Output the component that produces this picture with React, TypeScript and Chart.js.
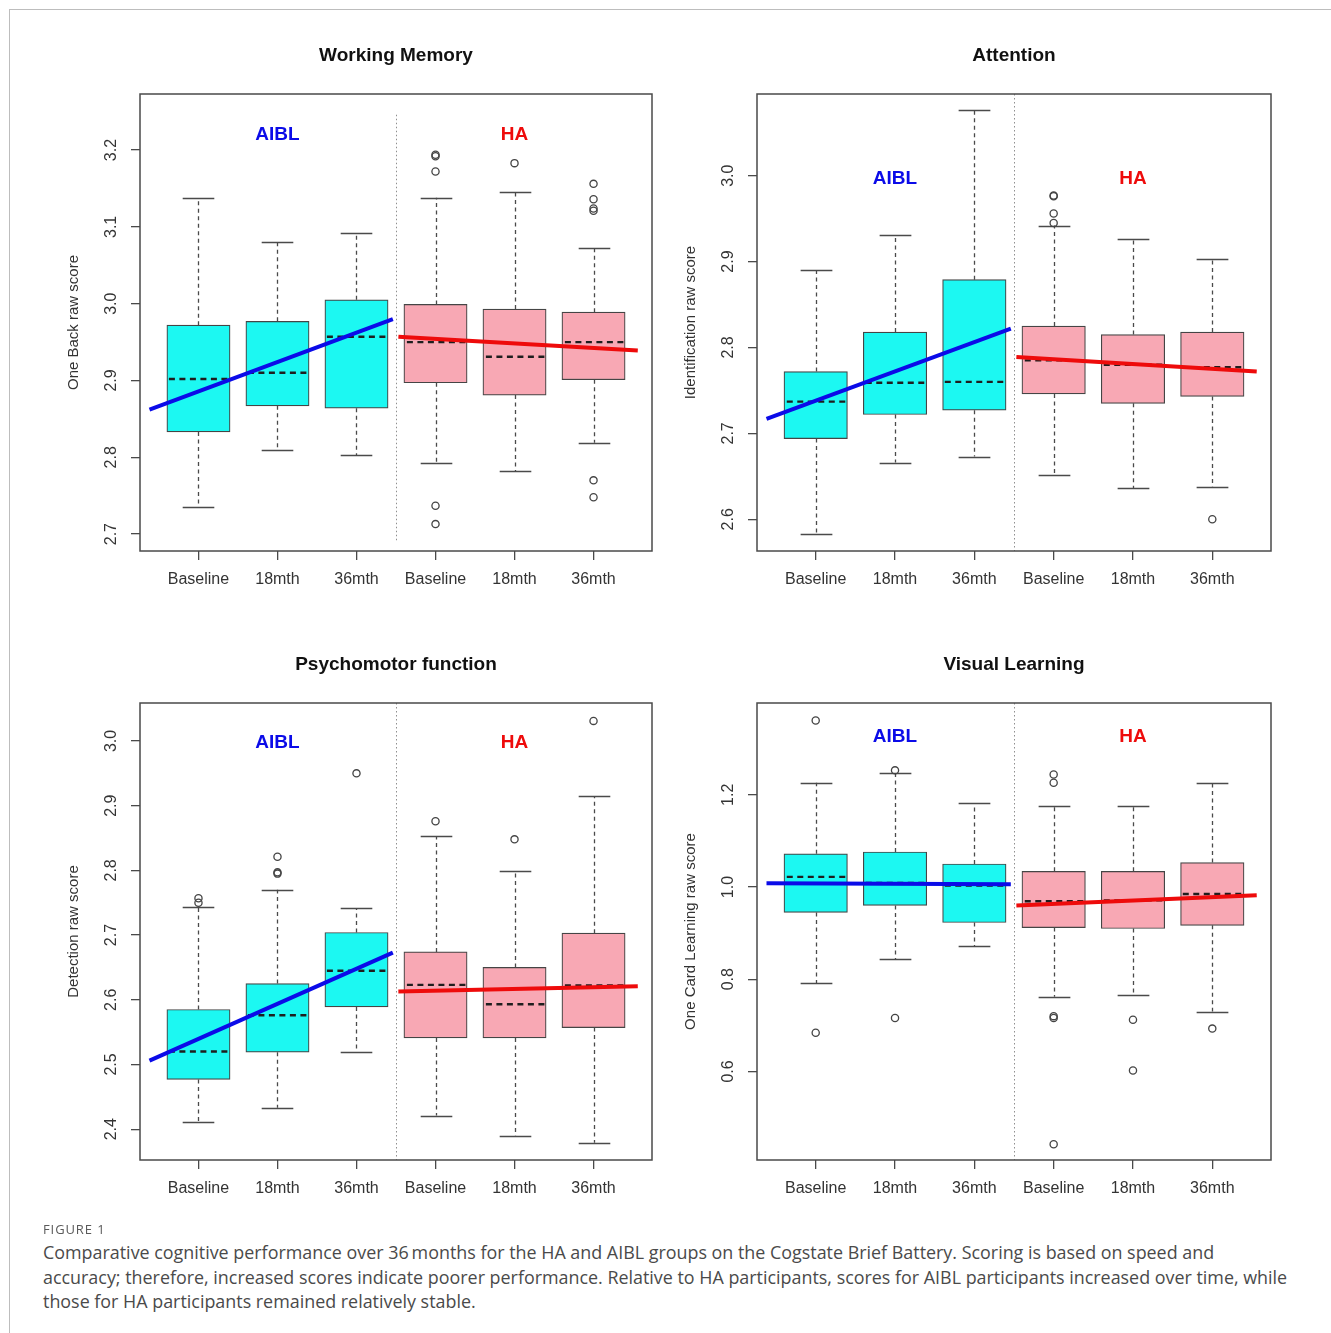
import React, { useEffect, useRef } from "react";
import { Chart, registerables } from "chart.js";

Chart.register(...registerables);

const FONT = "'Liberation Sans', Arial, Helvetica, sans-serif";
const CAPTION_FONT = "'Open Sans', 'Noto Sans', sans-serif";

// ---- shared ----
const categories = ["Baseline", "18mth", "36mth", "Baseline", "18mth", "36mth"];
const groupNames = ["AIBL", "HA"];
const groupCenters = [2, 5];
const aiblTrendX = [0.38, 3.46];
const haTrendX = [3.53, 6.56];

// ---- Working Memory ----
const wmLower = [2.735, 2.81, 2.803, 2.792, 2.782, 2.819];
const wmQ1 = [2.833, 2.867, 2.864, 2.897, 2.881, 2.901];
const wmMedian = [2.902, 2.91, 2.957, 2.95, 2.931, 2.95];
const wmQ3 = [2.972, 2.977, 3.005, 2.999, 2.993, 2.989];
const wmUpper = [3.138, 3.08, 3.092, 3.138, 3.145, 3.072];
const wmOutlierCat = [4, 4, 4, 4, 4, 5, 6, 6, 6, 6, 6, 6];
const wmOutlierVal = [3.194, 3.192, 3.172, 2.737, 2.713, 3.183, 3.156, 3.136, 3.124, 3.121, 2.77, 2.748];
const wmAiblTrend = [2.862, 2.98];
const wmHaTrend = [2.957, 2.939];
const wmTicks = [2.7, 2.8, 2.9, 3.0, 3.1, 3.2];

// ---- Attention ----
const atLower = [2.583, 2.666, 2.673, 2.651, 2.636, 2.638];
const atQ1 = [2.694, 2.722, 2.727, 2.746, 2.735, 2.743];
const atMedian = [2.737, 2.759, 2.76, 2.785, 2.78, 2.777];
const atQ3 = [2.772, 2.818, 2.879, 2.825, 2.815, 2.818];
const atUpper = [2.89, 2.931, 3.077, 2.942, 2.926, 2.903];
const atOutlierCat = [4, 4, 4, 4, 6];
const atOutlierVal = [2.977, 2.976, 2.956, 2.945, 2.6];
const atAiblTrend = [2.717, 2.822];
const atHaTrend = [2.789, 2.772];
const atTicks = [2.6, 2.7, 2.8, 2.9, 3.0];

// ---- Psychomotor function ----
const pmLower = [2.411, 2.433, 2.52, 2.421, 2.39, 2.379];
const pmQ1 = [2.477, 2.519, 2.589, 2.541, 2.541, 2.557];
const pmMedian = [2.52, 2.576, 2.645, 2.623, 2.593, 2.622];
const pmQ3 = [2.585, 2.625, 2.704, 2.674, 2.65, 2.703];
const pmUpper = [2.744, 2.77, 2.742, 2.853, 2.799, 2.915];
const pmOutlierCat = [1, 1, 2, 2, 2, 3, 4, 5, 6];
const pmOutlierVal = [2.757, 2.75, 2.821, 2.797, 2.795, 2.95, 2.876, 2.848, 3.031];
const pmAiblTrend = [2.506, 2.673];
const pmHaTrend = [2.613, 2.621];
const pmTicks = [2.4, 2.5, 2.6, 2.7, 2.8, 2.9, 3.0];

// ---- Visual Learning ----
const vlLower = [0.791, 0.843, 0.872, 0.762, 0.765, 0.73];
const vlQ1 = [0.945, 0.96, 0.923, 0.912, 0.91, 0.917];
const vlMedian = [1.022, 1.009, 1.003, 0.969, 0.971, 0.985];
const vlQ3 = [1.072, 1.076, 1.05, 1.034, 1.034, 1.053];
const vlUpper = [1.226, 1.248, 1.182, 1.175, 1.175, 1.226];
const vlOutlierCat = [1, 1, 2, 2, 4, 4, 4, 4, 4, 5, 5, 6];
const vlOutlierVal = [1.361, 0.684, 1.253, 0.716, 1.244, 1.226, 0.72, 0.716, 0.442, 0.712, 0.602, 0.693];
const vlAiblTrend = [1.008, 1.006];
const vlHaTrend = [0.96, 0.982];
const vlTicks = [0.6, 0.8, 1.0, 1.2];

const CYAN = "#1cf8f2";
const PINK = "#f8a8b4";
const BLUE = "#0b0be8";
const RED = "#ee0b0b";

const PAD_L = 120;
const PAD_T = 75;
const PAD_R = 20;
const PAD_B = 70;

type Panel = {
  title: string;
  yTitle: string;
  plotL: number;
  plotT: number;
  plotW: number;
  plotH: number;
  yMin: number;
  yMax: number;
  yTicks: number[];
  lower: number[];
  q1: number[];
  median: number[];
  q3: number[];
  upper: number[];
  outCat: number[];
  outVal: number[];
  aiblTrend: number[];
  haTrend: number[];
  labelY: number;
  sepTop: number;
  sepBottom: number;
};

const panels: Panel[] = [
  {
    title: "Working Memory", yTitle: "One Back raw score",
    plotL: 140, plotT: 94, plotW: 512, plotH: 457,
    yMin: 2.678, yMax: 3.273, yTicks: wmTicks,
    lower: wmLower, q1: wmQ1, median: wmMedian, q3: wmQ3, upper: wmUpper,
    outCat: wmOutlierCat, outVal: wmOutlierVal, aiblTrend: wmAiblTrend, haTrend: wmHaTrend,
    labelY: 3.2195, sepTop: 3.246, sepBottom: 2.69,
  },
  {
    title: "Attention", yTitle: "Identification raw score",
    plotL: 757, plotT: 94, plotW: 514, plotH: 457,
    yMin: 2.5631, yMax: 3.0951, yTicks: atTicks,
    lower: atLower, q1: atQ1, median: atMedian, q3: atQ3, upper: atUpper,
    outCat: atOutlierCat, outVal: atOutlierVal, aiblTrend: atAiblTrend, haTrend: atHaTrend,
    labelY: 2.997, sepTop: 3.0951, sepBottom: 2.5631,
  },
  {
    title: "Psychomotor function", yTitle: "Detection raw score",
    plotL: 140, plotT: 703, plotW: 512, plotH: 457,
    yMin: 2.3524, yMax: 3.0587, yTicks: pmTicks,
    lower: pmLower, q1: pmQ1, median: pmMedian, q3: pmQ3, upper: pmUpper,
    outCat: pmOutlierCat, outVal: pmOutlierVal, aiblTrend: pmAiblTrend, haTrend: pmHaTrend,
    labelY: 2.997, sepTop: 3.0587, sepBottom: 2.3524,
  },
  {
    title: "Visual Learning", yTitle: "One Card Learning raw score",
    plotL: 757, plotT: 703, plotW: 514, plotH: 457,
    yMin: 0.408, yMax: 1.3991, yTicks: vlTicks,
    lower: vlLower, q1: vlQ1, median: vlMedian, q3: vlQ3, upper: vlUpper,
    outCat: vlOutlierCat, outVal: vlOutlierVal, aiblTrend: vlAiblTrend, haTrend: vlHaTrend,
    labelY: 1.325, sepTop: 1.3991, sepBottom: 0.408,
  },
];

function BoxPanel({ p }: { p: Panel }) {
  const ref = useRef<HTMLCanvasElement>(null);
  const W = p.plotW + PAD_L + PAD_R;
  const H = p.plotH + PAD_T + PAD_B;

  useEffect(() => {
    const canvas = ref.current;
    if (!canvas) return;
    const barThickness = (0.8 * p.plotW) / 6.48;

    const decor = {
      id: "boxDecor",
      beforeDatasetsDraw(chart: any) {
        const { ctx, scales } = chart;
        const x = scales.x;
        const y = scales.y;
        ctx.save();
        ctx.strokeStyle = "#8f8f8f";
        ctx.lineWidth = 1;
        ctx.setLineDash([1.5, 2.5]);
        const sx = Math.round(x.getPixelForValue(3.5)) + 0.5;
        ctx.beginPath();
        ctx.moveTo(sx, y.getPixelForValue(p.sepTop));
        ctx.lineTo(sx, y.getPixelForValue(p.sepBottom));
        ctx.stroke();
        ctx.restore();
      },
      afterDatasetDraw(chart: any, args: any) {
        if (args.meta.type !== "bar") return;
        const { ctx, scales } = chart;
        const x = scales.x;
        const y = scales.y;
        const capHalf = x.getPixelForValue(1.2) - x.getPixelForValue(1);
        const boxHalf = barThickness / 2;
        ctx.save();
        for (let i = 0; i < categories.length; i++) {
          const cx = Math.round(x.getPixelForValue(i + 1)) + 0.5;
          const yUp = y.getPixelForValue(p.upper[i]);
          const yQ3 = y.getPixelForValue(p.q3[i]);
          const yQ1 = y.getPixelForValue(p.q1[i]);
          const yLo = y.getPixelForValue(p.lower[i]);
          // whiskers
          ctx.strokeStyle = "#4a4a4a";
          ctx.lineWidth = 1.3;
          ctx.setLineDash([4, 3.5]);
          ctx.beginPath();
          ctx.moveTo(cx, yQ3);
          ctx.lineTo(cx, yUp);
          ctx.moveTo(cx, yQ1);
          ctx.lineTo(cx, yLo);
          ctx.stroke();
          // caps
          ctx.setLineDash([]);
          ctx.beginPath();
          const yu = Math.round(yUp) + 0.5;
          const yl = Math.round(yLo) + 0.5;
          ctx.moveTo(cx - capHalf, yu);
          ctx.lineTo(cx + capHalf, yu);
          ctx.moveTo(cx - capHalf, yl);
          ctx.lineTo(cx + capHalf, yl);
          ctx.stroke();
          // median
          const ym = y.getPixelForValue(p.median[i]);
          ctx.strokeStyle = "#1e1e1e";
          ctx.lineWidth = 2.4;
          ctx.setLineDash([6, 4.5]);
          ctx.beginPath();
          ctx.moveTo(cx - boxHalf + 2, ym);
          ctx.lineTo(cx + boxHalf - 1, ym);
          ctx.stroke();
        }
        ctx.restore();
      },
      afterDraw(chart: any) {
        const { ctx, chartArea: a, scales } = chart;
        const x = scales.x;
        const y = scales.y;
        ctx.save();
        // plot frame
        ctx.strokeStyle = "#4a4a4a";
        ctx.lineWidth = 1.5;
        ctx.setLineDash([]);
        ctx.strokeRect(a.left, a.top, a.right - a.left, a.bottom - a.top);
        // title
        ctx.fillStyle = "#111";
        ctx.font = `bold 19px ${FONT}`;
        ctx.textAlign = "center";
        ctx.textBaseline = "middle";
        ctx.fillText(p.title, (a.left + a.right) / 2, a.top - 38);
        // group labels
        groupNames.forEach((g, gi) => {
          ctx.fillStyle = gi === 0 ? BLUE : RED;
          ctx.fillText(g, x.getPixelForValue(groupCenters[gi]), y.getPixelForValue(p.labelY));
        });
        ctx.restore();
      },
    };

    const chart = new Chart(canvas, {
      type: "bar",
      data: {
        datasets: [
          {
            type: "bar",
            label: "boxes",
            data: categories.map((_, i) => ({ x: i + 1, y: [p.q1[i], p.q3[i]] })) as any,
            backgroundColor: categories.map((_, i) => (i < 3 ? CYAN : PINK)),
            borderColor: "#454545",
            borderWidth: 1.2,
            borderSkipped: false,
            barThickness,
            grouped: false,
            order: 3,
          } as any,
          {
            type: "line",
            label: "outliers",
            data: p.outCat.map((c, i) => ({ x: c, y: p.outVal[i] })),
            showLine: false,
            pointRadius: 3.6,
            pointStyle: "circle",
            pointBorderColor: "#444",
            pointBackgroundColor: "rgba(0,0,0,0)",
            pointBorderWidth: 1.3,
            order: 2,
          } as any,
          {
            type: "line",
            label: "AIBL trend",
            data: aiblTrendX.map((xv, i) => ({ x: xv, y: p.aiblTrend[i] })),
            borderColor: BLUE,
            borderWidth: 4,
            pointRadius: 0,
            order: 1,
          } as any,
          {
            type: "line",
            label: "HA trend",
            data: haTrendX.map((xv, i) => ({ x: xv, y: p.haTrend[i] })),
            borderColor: RED,
            borderWidth: 4,
            pointRadius: 0,
            order: 0,
          } as any,
        ],
      },
      options: {
        responsive: false,
        animation: false,
        devicePixelRatio: 1,
        layout: { padding: { left: 0, top: PAD_T, right: PAD_R, bottom: 0 } },
        plugins: {
          legend: { display: false },
          tooltip: { enabled: false },
          title: { display: false },
        },
        scales: {
          x: {
            type: "linear",
            min: 0.26,
            max: 6.74,
            offset: false,
            afterBuildTicks: (s: any) => {
              s.ticks = categories.map((_, i) => ({ value: i + 1 }));
            },
            afterFit: (s: any) => {
              s.height = PAD_B;
              s.paddingLeft = 0;
              s.paddingRight = 0;
            },
            grid: {
              display: true,
              offset: false,
              drawOnChartArea: false,
              drawTicks: true,
              tickLength: 9,
              color: "#4a4a4a",
              lineWidth: 1.3,
            },
            border: { display: false },
            ticks: {
              autoSkip: false,
              maxRotation: 0,
              minRotation: 0,
              padding: 10,
              color: "#333",
              font: { family: FONT, size: 16 },
              callback: (v: any) => categories[Math.round(Number(v)) - 1] ?? "",
            },
          },
          y: {
            type: "linear",
            min: p.yMin,
            max: p.yMax,
            beginAtZero: false,
            afterBuildTicks: (s: any) => {
              s.ticks = p.yTicks.map((v) => ({ value: v }));
            },
            afterFit: (s: any) => {
              s.width = PAD_L;
              s.paddingTop = 0;
              s.paddingBottom = 0;
            },
            grid: {
              display: true,
              drawOnChartArea: false,
              drawTicks: true,
              tickLength: 9,
              color: "#4a4a4a",
              lineWidth: 1.3,
            },
            border: { display: false },
            ticks: {
              minRotation: 90,
              maxRotation: 90,
              crossAlign: "center",
              padding: 8,
              color: "#333",
              font: { family: FONT, size: 16 },
              callback: (v: any) => Number(v).toFixed(1),
            },
            title: {
              display: true,
              text: p.yTitle,
              color: "#333",
              font: { family: FONT, size: 15 },
              padding: { top: 44.5, bottom: 0 },
            },
          },
        },
      } as any,
      plugins: [decor],
    });
    return () => chart.destroy();
  }, [p]);

  return (
    <canvas
      ref={ref}
      width={W}
      height={H}
      style={{ position: "absolute", left: p.plotL - PAD_L, top: p.plotT - PAD_T, width: W, height: H }}
    />
  );
}

const captionLabel = "FIGURE 1";
const captionLines = [
  "Comparative cognitive performance over 36\u2009months for the HA and AIBL groups on the Cogstate Brief Battery. Scoring is based on speed and",
  "accuracy; therefore, increased scores indicate poorer performance. Relative to HA participants, scores for AIBL participants increased over time, while",
  "those for HA participants remained relatively stable.",
];

export default function App() {
  return (
    <div
      style={{
        position: "absolute",
        left: 0,
        top: 0,
        width: 1331,
        height: 1333,
        background: "#fff",
        overflow: "hidden",
      }}
    >
      <div
        style={{
          position: "absolute",
          left: 9,
          top: 9,
          width: 1500,
          height: 1500,
          borderTop: "1px solid #bdbdbd",
          borderLeft: "1px solid #bdbdbd",
        }}
      />
      {panels.map((p, i) => (
        <BoxPanel key={i} p={p} />
      ))}
      <div
        style={{
          position: "absolute",
          left: 43,
          top: 1220,
          fontFamily: CAPTION_FONT,
          fontSize: 13,
          letterSpacing: "0.9px",
          color: "#5a5a5a",
          lineHeight: "18px",
          whiteSpace: "nowrap",
        }}
      >
        {captionLabel}
      </div>
      {captionLines.map((line, i) => (
        <div
          key={i}
          style={{
            position: "absolute",
            left: 43,
            top: 1240 + i * 24.5,
            fontFamily: CAPTION_FONT,
            fontSize: 17.9,
            color: "#4a4a4a",
            lineHeight: "24px",
            whiteSpace: "nowrap",
          }}
        >
          {line}
        </div>
      ))}
    </div>
  );
}
